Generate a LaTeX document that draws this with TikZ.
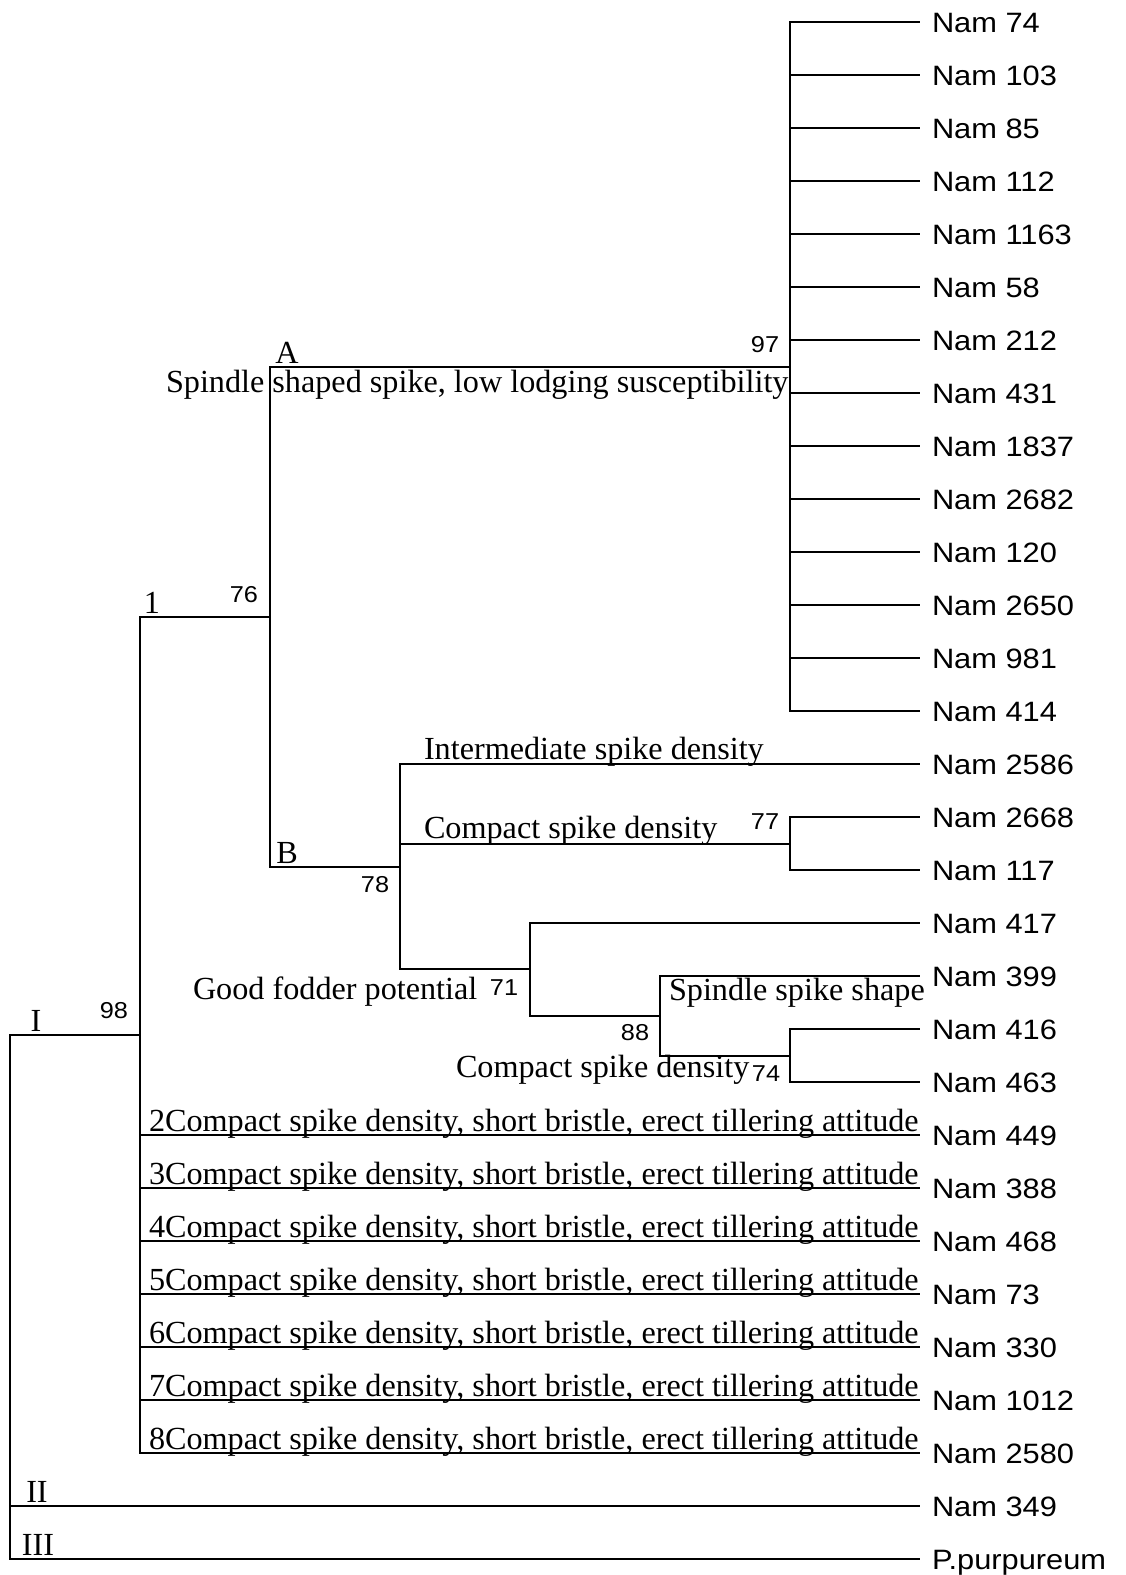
\documentclass[tikz,border=0pt]{standalone}
\usepackage{fontspec}
\setmainfont{Liberation Serif}
\newfontfamily\leaffont[FakeStretch=1.1]{Liberation Sans}
\usepackage{tikz}

\begin{document}
\begin{tikzpicture}[x=1pt,y=-1pt,line width=2pt,
    leaf/.style={anchor=base west,inner sep=0pt,font=\leaffont\fontsize{28}{32}\selectfont},
    boot/.style={inner sep=0pt,font=\leaffont\fontsize{23}{26}\selectfont},
    trait/.style={anchor=base west,inner sep=0pt,font=\fontsize{32.2}{36}\selectfont},
    clus/.style={anchor=base,inner sep=0pt,font=\fontsize{32.2}{36}\selectfont}]
\fill[white] (0,0) rectangle (1126,1575);
\useasboundingbox (0,0) rectangle (1126,1575);

\foreach \nm [count=\i from 0] in {Nam 74,Nam 103,Nam 85,Nam 112,Nam 1163,Nam 58,Nam 212,Nam 431,Nam 1837,Nam 2682,Nam 120,Nam 2650,Nam 981,Nam 414,Nam 2586,Nam 2668,Nam 117,Nam 417,Nam 399,Nam 416,Nam 463,Nam 449,Nam 388,Nam 468,Nam 73,Nam 330,Nam 1012,Nam 2580,Nam 349,P.purpureum} {
    \coordinate (e\i) at (920,22+53*\i);
    \node[leaf] (t\i) at (931,32+53*\i) {\nm};
}

\coordinate (n97) at (790,366.5);
\coordinate (n77) at (790,843.5);
\coordinate (n74) at (790,1055.5);
\coordinate (n88) at (660,1015.75);
\coordinate (n71) at (530,969.4);
\coordinate (n78) at (400,866.7);
\coordinate (n76) at (270,616.6);
\coordinate (n98) at (140,1034.8);
\coordinate (root) at (10,1296.9);

\foreach \i in {0,...,13} \draw (n97) |- (e\i);
\draw (n76) |- (n97);
\draw (n76) |- (n78);
\draw (n78) |- (e14);
\draw (n78) |- (n77);
\draw (n78) |- (n71);
\draw (n77) |- (e15);
\draw (n77) |- (e16);
\draw (n71) |- (e17);
\draw (n71) |- (n88);
\draw (n88) |- (e18);
\draw (n88) |- (n74);
\draw (n74) |- (e19);
\draw (n74) |- (e20);
\draw (n98) |- (n76);
\foreach \i in {21,...,27} \draw (n98) |- (e\i);
\draw (root) |- (n98);
\draw (root) |- (e28);
\draw (root) |- (e29);

\node[boot] (b98) at (114,1011) {98};
\node[boot] (b76) at (244,595) {76};
\node[boot] (b97) at (765,345) {97};
\node[boot] (b78) at (375,885) {78};
\node[boot] (b77) at (765,822) {77};
\node[boot] (b71) at (504,988) {71};
\node[boot] (b88) at (635,1033) {88};
\node[boot] (b74) at (766,1074) {74};

\node[clus] (cI) at (36,1031) {I};
\node[clus] (cII) at (37,1502) {II};
\node[clus] (cIII) at (38,1555) {III};
\node[clus] (c1) at (152,613) {1};
\node[clus] (cA) at (287,363) {A};
\node[clus] (cB) at (287,863) {B};

\node[trait] (sA) at (165,392) {Spindle shaped spike, low lodging susceptibility};
\node[trait] (sInt) at (423,759) {Intermediate spike density};
\node[trait] (sCp) at (423,838) {Compact spike density};
\node[trait] (sFod) at (192,999) {Good fodder potential};
\node[trait] (sSp) at (668,1000) {Spindle spike shape};
\node[trait] (sCp2) at (455,1077) {Compact spike density};
\foreach \k [evaluate=\k as \j using int(\k+19)] in {2,...,8}
    \node[trait] (g\k) at (148,22+53*\j-4) {\k Compact spike density, short bristle, erect tillering attitude};
\end{tikzpicture}
\end{document}
